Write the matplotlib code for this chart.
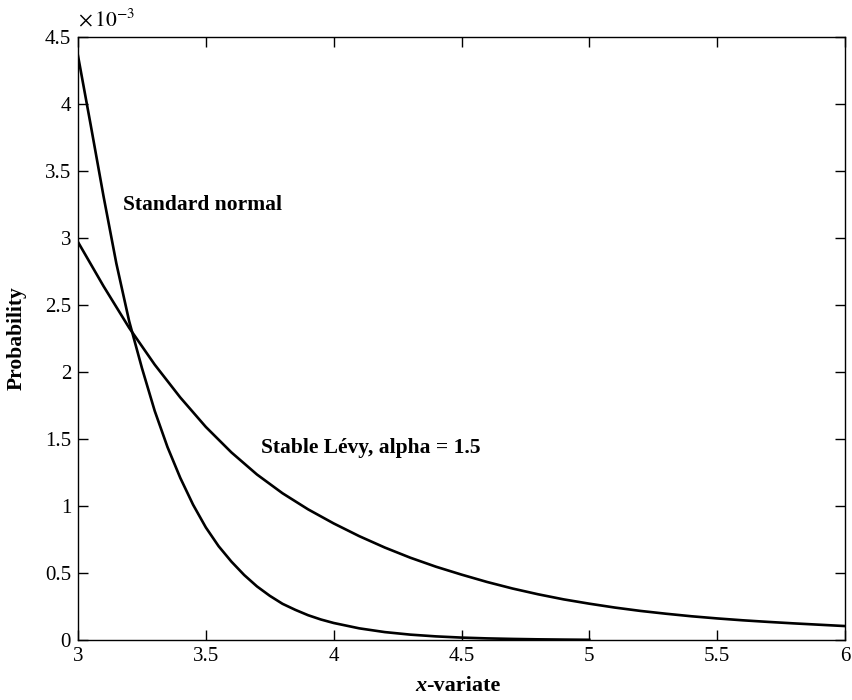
import matplotlib
matplotlib.use("Agg")
import matplotlib.pyplot as plt
from matplotlib.ticker import FuncFormatter
from matplotlib.offsetbox import TextArea, HPacker, AnchoredOffsetbox

plt.rcParams['font.family'] = ['Liberation Serif', 'DejaVu Serif']
plt.rcParams['mathtext.fontset'] = 'stix'

# Standard normal curve (x, probability)
normal_x = [3.00, 3.05, 3.10, 3.15, 3.20, 3.25, 3.30, 3.35, 3.40, 3.45, 3.50, 3.55,
            3.60, 3.65, 3.70, 3.75, 3.80, 3.85, 3.90, 3.95, 4.00, 4.10, 4.20, 4.30,
            4.40, 4.50, 4.60, 4.70, 4.80, 4.90, 5.00]
normal_y = [4.36e-3, 3.84e-3, 3.31e-3, 2.81e-3, 2.38e-3, 2.03e-3, 1.71e-3, 1.44e-3,
            1.21e-3, 1.01e-3, 0.84e-3, 0.70e-3, 0.585e-3, 0.485e-3, 0.40e-3, 0.33e-3,
            0.27e-3, 0.225e-3, 0.185e-3, 0.153e-3, 0.127e-3, 0.087e-3, 0.059e-3,
            0.040e-3, 0.027e-3, 0.018e-3, 0.012e-3, 0.008e-3, 0.005e-3, 0.003e-3,
            0.0015e-3]

# Stable Levy, alpha = 1.5
levy_x = [3.0, 3.1, 3.2, 3.3, 3.4, 3.5, 3.6, 3.7, 3.8, 3.9, 4.0, 4.1, 4.2, 4.3, 4.4,
          4.5, 4.6, 4.7, 4.8, 4.9, 5.0, 5.1, 5.2, 5.3, 5.4, 5.5, 5.6, 5.7, 5.8, 5.9, 6.0]
levy_y = [2.97e-3, 2.64e-3, 2.33e-3, 2.055e-3, 1.81e-3, 1.59e-3, 1.40e-3, 1.235e-3,
          1.095e-3, 0.975e-3, 0.87e-3, 0.775e-3, 0.69e-3, 0.614e-3, 0.547e-3,
          0.488e-3, 0.433e-3, 0.384e-3, 0.341e-3, 0.303e-3, 0.271e-3, 0.242e-3,
          0.217e-3, 0.196e-3, 0.177e-3, 0.161e-3, 0.147e-3, 0.135e-3, 0.124e-3,
          0.114e-3, 0.104e-3]

x_ticks = [3, 3.5, 4, 4.5, 5, 5.5, 6]
y_ticks = [0, 0.5e-3, 1e-3, 1.5e-3, 2e-3, 2.5e-3, 3e-3, 3.5e-3, 4e-3, 4.5e-3]

fig = plt.figure(figsize=(8.52, 7.0), dpi=100)
ax = fig.add_axes([78/852, 1-640/700, (845-78)/852, (640-37)/700])

ax.plot(normal_x, normal_y, color='black', lw=1.9, solid_joinstyle='round')
ax.plot(levy_x, levy_y, color='black', lw=1.9, solid_joinstyle='round')

ax.set_xlim(3, 6)
ax.set_ylim(0, 4.5e-3)
ax.set_xticks(x_ticks)
ax.set_yticks(y_ticks)
ax.xaxis.set_major_formatter(FuncFormatter(lambda v, p: f"{v:g}"))
ax.yaxis.set_major_formatter(FuncFormatter(lambda v, p: f"{v*1e3:g}"))
ax.tick_params(direction='in', length=7, width=1, top=True, right=True,
               labelsize=15, pad=5)
for s in ax.spines.values():
    s.set_linewidth(1.0)

ax.text(0.0, 1.01, r'$\times\,10^{-3}$', transform=ax.transAxes, fontsize=15.5,
        ha='left', va='bottom')

ax.text(3.176, 3.25e-3, 'Standard normal', fontsize=15.5, fontweight='bold',
        ha='left', va='center')
ax.text(3.716, 1.43e-3, 'Stable Lévy, alpha = 1.5', fontsize=15.5, fontweight='bold',
        ha='left', va='center')

# x label with italic x
t1 = TextArea('x', textprops=dict(fontsize=16, fontweight='bold', fontstyle='italic'))
t2 = TextArea('-variate', textprops=dict(fontsize=16, fontweight='bold'))
box = HPacker(children=[t1, t2], align='baseline', pad=0, sep=0)
ab = AnchoredOffsetbox(loc='center', child=box, frameon=False,
                       bbox_to_anchor=(458/852, 1-686/700),
                       bbox_transform=fig.transFigure, borderpad=0, pad=0)
fig.add_artist(ab)

fig.text(17/852, 1-338/700, 'Probability', fontsize=15.5, fontweight='bold',
         rotation=90, ha='center', va='center')

fig.savefig('out.png', dpi=100)
